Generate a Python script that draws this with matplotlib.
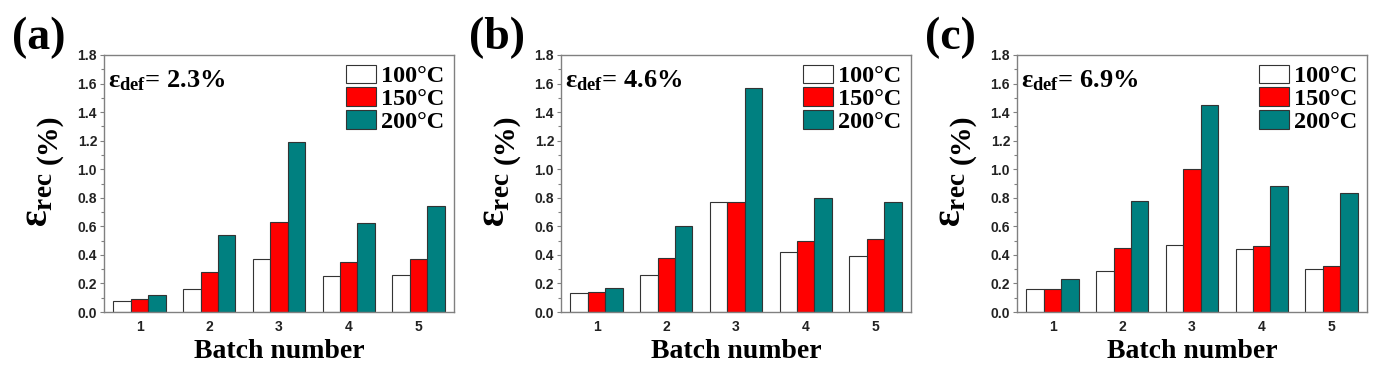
import matplotlib
matplotlib.use("Agg")
import matplotlib.pyplot as plt
import numpy as np
from matplotlib.ticker import MultipleLocator, FormatStrFormatter

batches = [1, 2, 3, 4, 5]
series_labels = ["100°C", "150°C", "200°C"]
panel_labels = ["(a)", "(b)", "(c)"]
strain_def = ["2.3%", "4.6%", "6.9%"]

# panel (a) eps_def = 2.3%
a_100 = [0.08, 0.16, 0.37, 0.25, 0.26]
a_150 = [0.09, 0.28, 0.63, 0.35, 0.37]
a_200 = [0.12, 0.54, 1.19, 0.62, 0.74]
# panel (b) eps_def = 4.6%
b_100 = [0.13, 0.26, 0.77, 0.42, 0.39]
b_150 = [0.14, 0.38, 0.77, 0.50, 0.51]
b_200 = [0.17, 0.60, 1.57, 0.80, 0.77]
# panel (c) eps_def = 6.9%
c_100 = [0.16, 0.29, 0.47, 0.44, 0.30]
c_150 = [0.16, 0.45, 1.00, 0.46, 0.32]
c_200 = [0.23, 0.78, 1.45, 0.88, 0.83]

panels = [(a_100, a_150, a_200), (b_100, b_150, b_200), (c_100, c_150, c_200)]
colors = ["#ffffff", "#ff0000", "#008080"]

plt.rcParams['mathtext.fontset'] = 'custom'
plt.rcParams['mathtext.rm'] = 'Liberation Serif:bold'
plt.rcParams['mathtext.bf'] = 'Liberation Serif:bold'
plt.rcParams['mathtext.it'] = 'Liberation Serif:bold'

fig = plt.figure(figsize=(13.82, 3.73), dpi=100)
W, H = 1382, 373
lefts = [104, 561, 1017]
ax_w = 350
ax_top, ax_bot = 55, 312

serif = 'Liberation Serif'
sans = 'Liberation Sans'
spine_col = '#808080'

for i, (vals, plab, sdef) in enumerate(zip(panels, panel_labels, strain_def)):
    L = lefts[i]
    ax = fig.add_axes([L / W, 1 - ax_bot / H, ax_w / W, (ax_bot - ax_top) / H])
    x = np.array(batches, dtype=float)
    bw = 0.25
    for k, (v, c, lab) in enumerate(zip(vals, colors, series_labels)):
        ax.bar(x + (k - 1) * bw, v, width=bw, color=c, edgecolor='#333333',
               linewidth=0.8, label=lab)
    ax.set_xlim(0.49, 5.51)
    ax.set_ylim(0, 1.8)
    ax.yaxis.set_major_locator(MultipleLocator(0.2))
    ax.yaxis.set_minor_locator(MultipleLocator(0.1))
    ax.yaxis.set_major_formatter(FormatStrFormatter('%.1f'))
    ax.set_xticks(batches)
    ax.tick_params(axis='x', length=0, pad=6)
    ax.tick_params(axis='y', which='major', direction='out', length=3, width=0.8, color=spine_col, pad=2)
    ax.tick_params(axis='y', which='minor', direction='out', length=2, width=0.8, color=spine_col)
    for lbl in ax.get_xticklabels() + ax.get_yticklabels():
        lbl.set_fontfamily(sans)
        lbl.set_fontweight('bold')
        lbl.set_fontsize(10)
        lbl.set_color('#222222')
    for sp in ax.spines.values():
        sp.set_color(spine_col)
        sp.set_linewidth(1.0)
    ax.set_xlabel('Batch number', fontfamily=serif, fontweight='bold', fontsize=20, labelpad=3)
    # y label: large epsilon with subscript, then "(%)"
    fig.text((L - 104 + 47) / W, 1 - 227 / H, r'$\mathrm{ε}_{\mathrm{rec}}$', rotation=90,
             rotation_mode='anchor', ha='left', va='baseline', fontsize=28,
             fontfamily=serif, fontweight='bold')
    fig.text((L - 104 + 56) / W, 1 - 164 / H, '(%)', rotation=90,
             rotation_mode='anchor', ha='left', va='baseline', fontsize=21.5,
             fontfamily=serif, fontweight='bold')
    ax.text(0.012, 0.875, r'$\mathrm{ε}_{\mathrm{def}}$' + '= ' + sdef, transform=ax.transAxes,
            fontfamily=serif, fontweight='bold', fontsize=19, ha='left', va='baseline')
    ax.legend(loc='upper right', frameon=False, prop={'family': serif, 'weight': 'bold', 'size': 17.5},
              handlelength=1.25, handleheight=0.8, handletextpad=0.2, labelspacing=0.0,
              borderaxespad=0.25, borderpad=0.15)
    fig.text((L - 92) / W, 1 - 38 / H, plab, fontfamily=serif, fontweight='bold',
             fontsize=33, ha='left', va='center')

fig.savefig('out.png', dpi=100)
